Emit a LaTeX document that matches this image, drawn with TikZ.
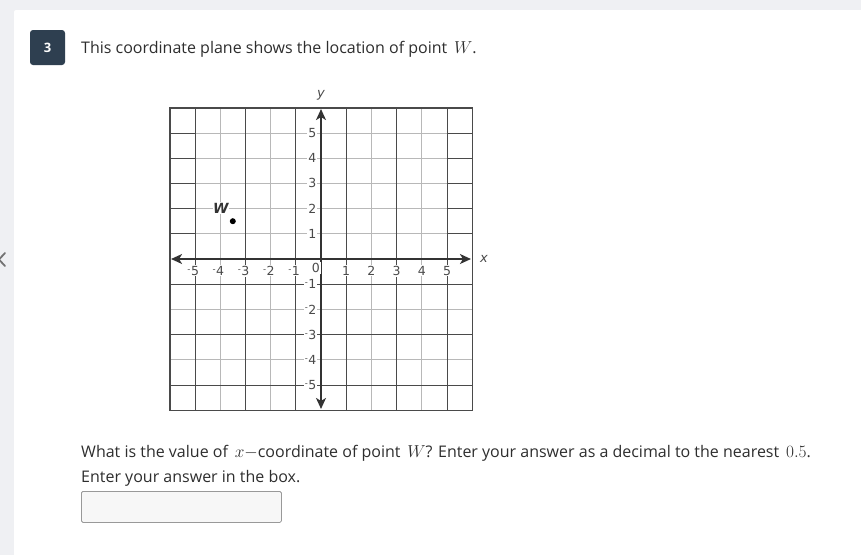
\documentclass[tikz,border=0pt]{standalone}
\usepackage{fontspec}
\setmainfont{Open Sans}
\newfontfamily\tickfont{DejaVu Sans}
\usetikzlibrary{arrows.meta}
\definecolor{bggray}{HTML}{EFF0F3}
\definecolor{badgecol}{HTML}{2E3F50}
\definecolor{txt}{HTML}{2E2E2E}
\definecolor{darkline}{HTML}{4A4A4A}
\definecolor{lightline}{HTML}{B8B8B8}
\definecolor{ticktxt}{HTML}{4A4A4A}
\definecolor{axiscol}{HTML}{333333}
\newcommand{\rminus}{\raisebox{.45ex}{\fontsize{8.5}{8.5}\selectfont -}\kern.04em}
\begin{document}
\begin{tikzpicture}[x=1pt,y=-1pt,
  bodytext/.style={anchor=base west, inner sep=0pt, text=txt, font=\fontsize{16}{19}\selectfont},
  badgebox/.style={fill=badgecol, rounded corners=3pt, minimum size=35pt, inner sep=0pt, text=white, font=\bfseries\fontsize{13}{13}\selectfont},
  ticklab/.style={fill=white, inner sep=1pt, text=ticktxt, font=\tickfont\fontsize{12.5}{12.5}\selectfont},
  axislab/.style={inner sep=0pt, text=ticktxt, font=\tickfont\itshape\fontsize{13}{13}\selectfont},
  lightgrid/.style={lightline, line width=1pt},
  darkgrid/.style={darkline, line width=1pt},
  axisline/.style={axiscol, line width=1.5pt, {Stealth[length=11pt,width=10pt,inset=3pt]}-{Stealth[length=11pt,width=10pt,inset=3pt]}},
  answerbox/.style={draw=black!40, fill=black!3, rounded corners=1.5pt, line width=0.8pt, minimum width=200pt, minimum height=31pt, inner sep=0pt}]
\useasboundingbox (0,0) rectangle (861,555);
\fill[bggray] (0,0) rectangle (861,555);
\fill[white, rounded corners=2pt] (14,10) rectangle (875,570);
\draw[black!55, line width=1.8pt, line cap=round, line join=round] (5,253) -- (-1,259.5) -- (5,266);
\node[badgebox] (badge) at (47.5,47.5) {3};
\node[bodytext] (title) at (81,53) {This coordinate plane shows the location of point \,$W$.};
\begin{scope}[shift={(321,259)}, x=25.2pt, y=25.2pt]
  % light lines
  \foreach \j in {1,2,3,4,5,-2,-4} \draw[lightgrid] (-6,\j) -- (6,\j);
  \foreach \i in {-4,-2,2,4} \draw[lightgrid] (\i,-6) -- (\i,6);
  % dark lines
  \foreach \j in {-1,-3,-5} \draw[darkgrid] (-6,\j) -- (6,\j);
  \foreach \j in {1,2,3,4,5} {\draw[darkgrid] (-6,\j) -- (-5,\j); \draw[darkgrid] (5,\j) -- (6,\j);}
  \foreach \i in {-5,-3,-1,1,3,5} \draw[darkgrid] (\i,-6) -- (\i,6);
  \draw[darkline, line width=1.4pt] (-6,-6) rectangle (6,6);
  % axes
  \coordinate (xl) at (-5.95,0);
  \coordinate (xr) at (5.95,0);
  \coordinate (yb) at (0,-5.95);
  \coordinate (yt) at (0,5.95);
  \draw[axisline] (xl) -- (xr);
  \draw[axisline] (yb) -- (yt);
  % tick labels
  \foreach \i in {1,...,5} {
    \node[ticklab] (xp\i) at (\i,-0.47) {\i};
    \node[ticklab] (xn\i) at (-\i,-0.47) {\llap{\rminus}\i};
    \node[ticklab, anchor=east] (yp\i) at (-0.14,\i) {\i};
    \node[ticklab, anchor=east] (yn\i) at (-0.14,-\i) {\rminus\i};
  }
  \node[ticklab] (zero) at (-0.2,-0.36) {0};
  \node[axislab] (ylab) at (0,6.5) {y};
  \node[axislab] (xlab) at (6.47,0) {x};
  % point W
  \node[circle, fill=black, inner sep=0pt, minimum size=6pt] (wdot) at (-3.5,1.5) {};
  \node[fill=white, inner sep=0.6pt, text=black!80, font=\tickfont\bfseries\itshape\fontsize{14}{14}\selectfont] (wlab) at (-3.97,2.02) {W};
\end{scope}
\node[bodytext] (q1) at (81,457) {What is the value of \,$x{-}$coordinate of point \,$W$? Enter your answer as a decimal to the nearest \,$0.5$.};
\node[bodytext] (q2) at (81,482) {Enter your answer in the box.};
\node[answerbox, anchor=north west] (ans) at (81,491) {};
\end{tikzpicture}
\end{document}
